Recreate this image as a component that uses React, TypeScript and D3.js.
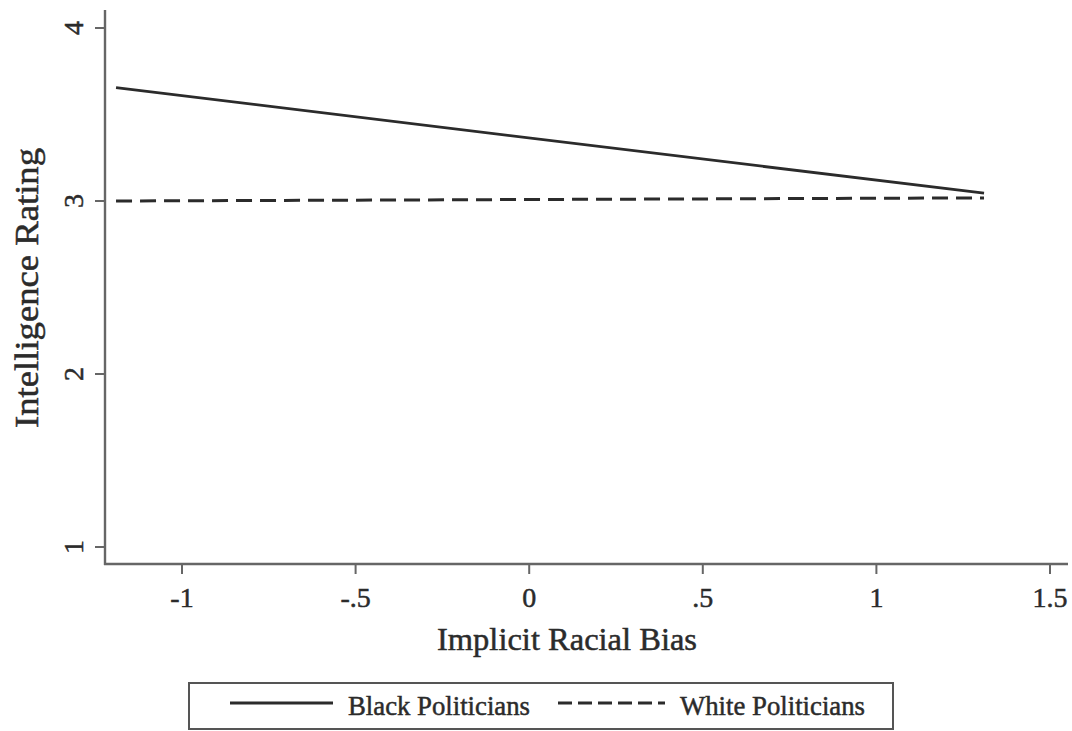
import React from "react";
import * as d3 from "d3";

const xTicks = [-1, -0.5, 0, 0.5, 1, 1.5];
const xTickLabels = ["-1", "-.5", "0", ".5", "1", "1.5"];
const yTicks = [1, 2, 3, 4];
const yTickLabels = ["1", "2", "3", "4"];
const seriesNames = ["Black Politicians", "White Politicians"];
const biasValues = [-1.19, 1.31];
const blackValues = [3.655, 3.045];
const whiteValues = [3.0, 3.018];

const W = 1072;
const H = 731;
const font = "'Liberation Serif', 'Times New Roman', serif";
const ink = "#2b2b2b";
const textStroke = { stroke: "#2b2b2b", strokeWidth: 0.5 };

export default function App() {
  const x = d3.scaleLinear().domain([-1, 1.5]).range([182, 1050]);
  const y = d3.scaleLinear().domain([1, 4]).range([547, 28]);
  const axisLeft = 105;
  const axisBottom = 564;
  const line = d3
    .line<[number, number]>()
    .x((d) => x(d[0]))
    .y((d) => y(d[1]));
  const blackPts = biasValues.map((b, i) => [b, blackValues[i]] as [number, number]);
  const whitePts = biasValues.map((b, i) => [b, whiteValues[i]] as [number, number]);

  return (
    <svg
      width={W}
      height={H}
      style={{ position: "absolute", left: 0, top: 0, background: "#fff" }}
      fontFamily={font}
    >
      <rect x={0} y={0} width={W} height={H} fill="#fff" />
      {/* axes */}
      <line x1={axisLeft} x2={axisLeft} y1={10} y2={axisBottom + 1} stroke="#666" strokeWidth={2.4} />
      <line x1={axisLeft - 1} x2={1068} y1={axisBottom} y2={axisBottom} stroke="#666" strokeWidth={2.4} />
      {yTicks.map((t, i) => (
        <g key={"y" + t}>
          <line x1={axisLeft - 10} x2={axisLeft} y1={y(t)} y2={y(t)} stroke="#666" strokeWidth={2} />
          <text
            transform={`translate(83,${y(t)}) rotate(-90)`}
            textAnchor="middle"
            fontSize={28}
            fill={ink}
            {...textStroke}
          >
            {yTickLabels[i]}
          </text>
        </g>
      ))}
      {xTicks.map((t, i) => (
        <g key={"x" + t}>
          <line x1={x(t)} x2={x(t)} y1={axisBottom} y2={axisBottom + 10} stroke="#666" strokeWidth={2} />
          <text x={x(t)} y={607} textAnchor="middle" fontSize={28} fill={ink} {...textStroke}>
            {xTickLabels[i]}
          </text>
        </g>
      ))}
      {/* axis titles */}
      <text
        transform={`translate(38,288) rotate(-90)`}
        textAnchor="middle"
        fontSize={33}
        fill={ink}
        {...textStroke}
        textLength={280}
        lengthAdjust="spacingAndGlyphs"
      >
        Intelligence Rating
      </text>
      <text
        x={567}
        y={650}
        textAnchor="middle"
        fontSize={32}
        fill={ink}
        {...textStroke}
        textLength={260}
        lengthAdjust="spacingAndGlyphs"
      >
        Implicit Racial Bias
      </text>
      {/* series */}
      <path d={line(blackPts) || ""} fill="none" stroke={ink} strokeWidth={2.8} />
      <path d={line(whitePts) || ""} fill="none" stroke={ink} strokeWidth={3} strokeDasharray="16,8" />
      {/* legend */}
      <rect x={189} y={683} width={704} height={46} fill="none" stroke="#555" strokeWidth={2} />
      <line x1={230} x2={333} y1={703} y2={703} stroke={ink} strokeWidth={2.8} />
      <text x={348} y={715} fontSize={28} fill={ink} {...textStroke} textLength={182} lengthAdjust="spacingAndGlyphs">
        {seriesNames[0]}
      </text>
      <line x1={558} x2={665} y1={703} y2={703} stroke={ink} strokeWidth={2.8} strokeDasharray="14,6" />
      <text x={680} y={715} fontSize={28} fill={ink} {...textStroke} textLength={185} lengthAdjust="spacingAndGlyphs">
        {seriesNames[1]}
      </text>
    </svg>
  );
}
